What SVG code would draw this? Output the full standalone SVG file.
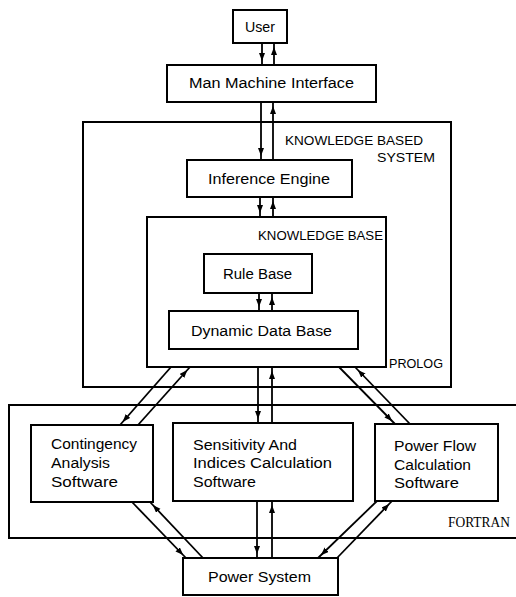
<svg xmlns="http://www.w3.org/2000/svg" width="516" height="597" viewBox="0 0 516 597">
<style>
.box{fill:none;stroke:#000;stroke-width:2}
.t{font-family:"Liberation Sans",Arial,sans-serif;font-size:14px;fill:#000}
.s{font-family:"Liberation Sans",Arial,sans-serif;font-size:13px;fill:#000}
.f{font-family:"Liberation Serif","Times New Roman",serif;font-size:14px;fill:#000}
.c{fill:none;stroke:#000;stroke-width:1.8;marker-end:url(#ah)}
</style>
<defs>
<marker id="ah" markerUnits="userSpaceOnUse" markerWidth="14" markerHeight="8" refX="12" refY="3" orient="auto" viewBox="0 0 14 8">
<path d="M0,0 L8,3 L0,6 z" fill="#000"/>
</marker>
</defs>
<rect width="516" height="597" fill="#fff"/>

<g id="fortran">
<path class="box" d="M516,405 H9 V538 H516"/>
<text class="f" x="448" y="527" textLength="62" lengthAdjust="spacingAndGlyphs">FORTRAN</text>
</g>

<g id="kbs">
<rect class="box" x="83" y="122" width="368" height="265"/>
<text class="s" x="285" y="145" textLength="138" lengthAdjust="spacingAndGlyphs">KNOWLEDGE BASED</text>
<text class="s" x="377" y="162" textLength="58" lengthAdjust="spacingAndGlyphs">SYSTEM</text>
</g>

<g id="kb">
<rect class="box" x="147" y="217" width="239" height="150"/>
<text class="s" x="258" y="240" textLength="125" lengthAdjust="spacingAndGlyphs">KNOWLEDGE BASE</text>
<text class="s" x="389" y="368" textLength="54" lengthAdjust="spacingAndGlyphs">PROLOG</text>
</g>

<g id="user">
<rect class="box" x="233" y="10" width="54" height="33"/>
<text class="t" x="245" y="32" textLength="30" lengthAdjust="spacingAndGlyphs">User</text>
</g>

<g id="mmi">
<rect class="box" x="167" y="65" width="209" height="37"/>
<text class="t" x="189" y="88" textLength="165" lengthAdjust="spacingAndGlyphs">Man Machine Interface</text>
</g>

<g id="ie">
<rect class="box" x="187" y="160" width="165" height="37"/>
<text class="t" x="208" y="184" textLength="122" lengthAdjust="spacingAndGlyphs">Inference Engine</text>
</g>

<g id="rb">
<rect class="box" x="204" y="254" width="108" height="39"/>
<text class="t" x="223" y="279" textLength="69" lengthAdjust="spacingAndGlyphs">Rule Base</text>
</g>

<g id="ddb">
<rect class="box" x="169" y="311" width="189" height="38"/>
<text class="t" x="191" y="336" textLength="141" lengthAdjust="spacingAndGlyphs">Dynamic Data Base</text>
</g>

<g id="ca">
<rect class="box" x="31" y="425" width="122" height="77"/>
<text class="t" x="51" y="449" textLength="86" lengthAdjust="spacingAndGlyphs">Contingency</text>
<text class="t" x="51" y="468" textLength="59" lengthAdjust="spacingAndGlyphs">Analysis</text>
<text class="t" x="51" y="487" textLength="67" lengthAdjust="spacingAndGlyphs">Software</text>
</g>

<g id="sens">
<rect class="box" x="173" y="423" width="180" height="78"/>
<text class="t" x="193" y="450" textLength="104" lengthAdjust="spacingAndGlyphs">Sensitivity And</text>
<text class="t" x="193" y="468" textLength="139" lengthAdjust="spacingAndGlyphs">Indices Calculation</text>
<text class="t" x="193" y="487" textLength="63" lengthAdjust="spacingAndGlyphs">Software</text>
</g>

<g id="pf">
<rect class="box" x="375" y="424" width="123" height="77"/>
<text class="t" x="394" y="451" textLength="82" lengthAdjust="spacingAndGlyphs">Power Flow</text>
<text class="t" x="394" y="470" textLength="77" lengthAdjust="spacingAndGlyphs">Calculation</text>
<text class="t" x="394" y="488" textLength="65" lengthAdjust="spacingAndGlyphs">Software</text>
</g>

<g id="ps">
<rect class="box" x="183" y="558" width="155" height="37"/>
<text class="t" x="208" y="582" textLength="103" lengthAdjust="spacingAndGlyphs">Power System</text>
</g>

<g id="connectors">
<line class="c" x1="262" y1="43" x2="262" y2="65"/>
<line class="c" x1="274" y1="65" x2="274" y2="43"/>
<line class="c" x1="261" y1="102" x2="261" y2="160"/>
<line class="c" x1="273" y1="160" x2="273" y2="102"/>
<line class="c" x1="260" y1="197" x2="260" y2="217"/>
<line class="c" x1="273" y1="217" x2="273" y2="197"/>
<line class="c" x1="259" y1="293" x2="259" y2="311"/>
<line class="c" x1="272" y1="311" x2="272" y2="293"/>
<line class="c" x1="258" y1="367" x2="258" y2="423"/>
<line class="c" x1="272" y1="423" x2="272" y2="367"/>
<line class="c" x1="257" y1="501" x2="257" y2="558"/>
<line class="c" x1="272" y1="558" x2="272" y2="501"/>
<line class="c" x1="171" y1="367" x2="120" y2="425"/>
<line class="c" x1="138" y1="425" x2="190" y2="367"/>
<line class="c" x1="339" y1="367" x2="395" y2="424"/>
<line class="c" x1="410" y1="424" x2="355" y2="367"/>
<line class="c" x1="132" y1="502" x2="186" y2="558"/>
<line class="c" x1="203" y1="558" x2="150" y2="502"/>
<line class="c" x1="377" y1="501" x2="318" y2="558"/>
<line class="c" x1="337" y1="558" x2="392" y2="501"/>
</g>
</svg>
